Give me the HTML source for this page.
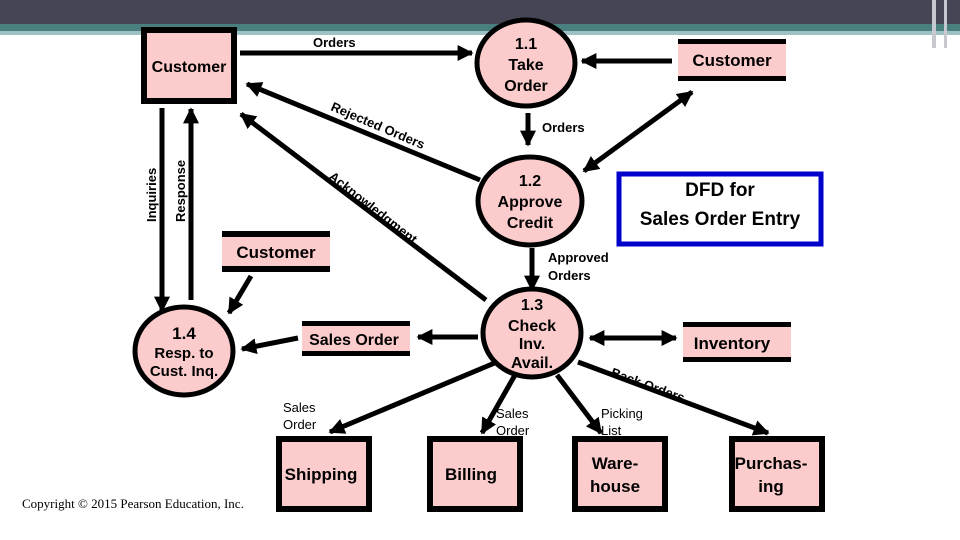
<!DOCTYPE html>
<html><head><meta charset="utf-8"><style>
body{margin:0;width:960px;height:540px;overflow:hidden;background:#fff}
svg{display:block}
text{font-family:"Liberation Sans",sans-serif;font-weight:bold;fill:#000}
</style></head><body>
<svg width="960" height="540" viewBox="0 0 960 540">
<defs>
<marker id="a" viewBox="0 0 10 10" refX="9" refY="5" markerWidth="3.2" markerHeight="3.2" orient="auto-start-reverse"><path d="M0,0L10,5L0,10z" fill="#000"/></marker>
</defs>
<rect x="0" y="0" width="960" height="24" fill="#454556"/>
<rect x="0" y="24" width="960" height="7" fill="#4a7f80"/>
<rect x="0" y="31" width="960" height="4" fill="#9fc1c4"/>
<rect x="932" y="0" width="4" height="48" fill="#c8c8d0"/>
<rect x="944" y="0" width="3" height="48" fill="#c8c8d0"/>
<g fill="#fccccc" stroke="#000">
<rect x="144" y="30" width="90" height="71" stroke-width="6"/>
<ellipse cx="526" cy="63" rx="49" ry="43" stroke-width="5"/>
<ellipse cx="530" cy="201" rx="52" ry="44" stroke-width="5"/>
<ellipse cx="532" cy="333" rx="49" ry="44" stroke-width="5"/>
<ellipse cx="184" cy="351" rx="49" ry="44" stroke-width="5"/>
<rect x="279" y="439" width="90" height="70" stroke-width="6"/>
<rect x="430" y="439" width="90" height="70" stroke-width="6"/>
<rect x="575" y="439" width="90" height="70" stroke-width="6"/>
<rect x="732" y="439" width="90" height="70" stroke-width="6"/>
</g>
<g fill="#fccccc">
<rect x="678" y="39" width="108" height="42"/>
<rect x="222" y="231" width="108" height="41"/>
<rect x="302" y="321" width="108" height="35"/>
<rect x="683" y="322" width="108" height="40"/>
</g>
<g fill="#000">
<rect x="678" y="39" width="108" height="5"/><rect x="678" y="76" width="108" height="5"/>
<rect x="222" y="231" width="108" height="6"/><rect x="222" y="266" width="108" height="6"/>
<rect x="302" y="321" width="108" height="5"/><rect x="302" y="351" width="108" height="5"/>
<rect x="683" y="322" width="108" height="5"/><rect x="683" y="357" width="108" height="5"/>
</g>
<rect x="619" y="174" width="202" height="70" fill="#fff" stroke="#0000cc" stroke-width="5"/>
<g stroke="#000" stroke-width="5" fill="none" marker-end="url(#a)">
<line x1="240" y1="53" x2="472" y2="53"/>
<line x1="672" y1="61" x2="582" y2="61"/>
<line x1="692" y1="92" x2="584" y2="171" marker-start="url(#a)"/>
<line x1="528" y1="113" x2="528" y2="145"/>
<line x1="480" y1="180" x2="247" y2="84"/>
<line x1="486" y1="300" x2="241" y2="114"/>
<line x1="532" y1="248" x2="532" y2="290"/>
<line x1="162" y1="108" x2="162" y2="311"/>
<line x1="191" y1="300" x2="191" y2="109"/>
<line x1="251" y1="276" x2="229" y2="313"/>
<line x1="478" y1="337" x2="418" y2="337"/>
<line x1="298" y1="338" x2="242" y2="349"/>
<line x1="590" y1="338" x2="676" y2="338" marker-start="url(#a)"/>
<line x1="497" y1="362" x2="330" y2="432"/>
<line x1="515" y1="375" x2="482" y2="433"/>
<line x1="557" y1="375" x2="601" y2="433"/>
<line x1="578" y1="362" x2="768" y2="433"/>
</g>
<g text-anchor="middle" font-size="16">
<text x="189" y="72">Customer</text>
<text x="526" y="49">1.1</text><text x="526" y="70">Take</text><text x="526" y="91">Order</text>
<text x="732" y="66" font-size="17">Customer</text>
<text x="530" y="186">1.2</text><text x="530" y="207">Approve</text><text x="530" y="228">Credit</text>
<text x="720" y="196" font-size="19" font-weight="normal" style="font-weight:bold">DFD for</text>
<text x="720" y="225" font-size="19">Sales Order Entry</text>
<text x="276" y="258" font-size="17">Customer</text>
<text x="532" y="310">1.3</text><text x="532" y="331">Check</text><text x="532" y="349">Inv.</text><text x="532" y="368">Avail.</text>
<text x="184" y="339" font-size="17">1.4</text><text x="184" y="358" font-size="15">Resp. to</text><text x="184" y="376" font-size="15">Cust. Inq.</text>
<text x="354" y="345">Sales Order</text>
<text x="732" y="349" font-size="17">Inventory</text>
<text x="321" y="480" font-size="17">Shipping</text>
<text x="471" y="480" font-size="17">Billing</text>
<text x="615" y="469" font-size="17">Ware-</text><text x="615" y="492" font-size="17">house</text>
<text x="771" y="469" font-size="17">Purchas-</text><text x="771" y="492" font-size="17">ing</text>
</g>
<g font-size="13">
<text x="313" y="47">Orders</text>
<text x="542" y="132">Orders</text>
<text x="548" y="262">Approved</text><text x="548" y="280">Orders</text>
<text x="283" y="412" font-weight="normal" style="font-weight:normal">Sales</text><text x="283" y="429" style="font-weight:normal">Order</text>
<text x="496" y="418" style="font-weight:normal">Sales</text><text x="496" y="435" style="font-weight:normal">Order</text>
<text x="601" y="418" style="font-weight:normal">Picking</text><text x="601" y="435" style="font-weight:normal">List</text>
<text transform="translate(330,110) rotate(23)">Rejected Orders</text>
<text transform="translate(328,178) rotate(38)">Acknowledgment</text>
<text transform="translate(610,376) rotate(20)">Back Orders</text>
<text transform="translate(156,222) rotate(-90)">Inquiries</text>
<text transform="translate(185,222) rotate(-90)">Response</text>
</g>
<text x="22" y="508" font-size="13" style="font-family:'Liberation Serif',serif;font-weight:normal">Copyright © 2015 Pearson Education, Inc.</text>
</svg>
</body></html>
